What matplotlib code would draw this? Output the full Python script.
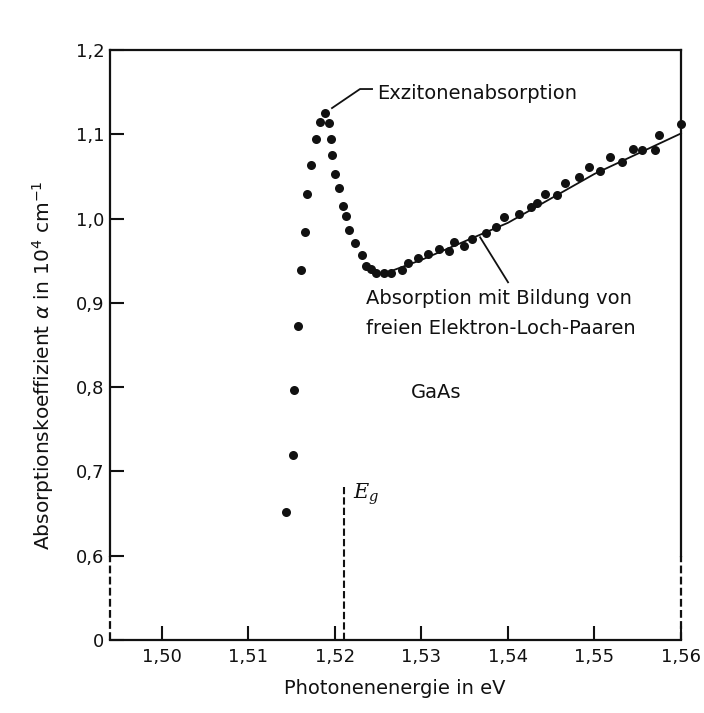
import matplotlib
matplotlib.use("Agg")
import matplotlib.pyplot as plt

# ---- data ----
peak_rise_x = [1.51437, 1.5151, 1.5153, 1.51578, 1.51606, 1.51659, 1.51678,
               1.51724, 1.51782, 1.51828, 1.51885]
peak_rise_y = [0.652, 0.720, 0.797, 0.872, 0.939, 0.984, 1.029,
               1.063, 1.095, 1.115, 1.1255]
peak_fall_x = [1.51931, 1.51951, 1.51962, 1.52000, 1.52043, 1.52089, 1.52126,
               1.52161, 1.52228, 1.52316, 1.52364, 1.52422, 1.52480, 1.5257]
peak_fall_y = [1.113, 1.095, 1.076, 1.053, 1.036, 1.015, 1.003,
               0.986, 0.971, 0.957, 0.944, 0.940, 0.936, 0.935]
band_x = [1.52652, 1.52778, 1.52843, 1.52957, 1.53072, 1.53199, 1.53322,
          1.53379, 1.53494, 1.53583, 1.53744, 1.53859, 1.53954, 1.54126,
          1.54261, 1.54337, 1.54433, 1.54567, 1.54655, 1.54816, 1.54931,
          1.55066, 1.55180, 1.55314, 1.55448, 1.55544, 1.55698, 1.55747,
          1.56003]
band_y = [0.936, 0.939, 0.947, 0.953, 0.958, 0.964, 0.961,
          0.972, 0.968, 0.976, 0.983, 0.990, 1.002, 1.005,
          1.014, 1.018, 1.029, 1.028, 1.042, 1.049, 1.061,
          1.057, 1.073, 1.067, 1.083, 1.081, 1.081, 1.099,
          1.112]
# smooth curve drawn under the band-absorption points
curve_x = [1.5255, 1.530, 1.540, 1.550, 1.560]
curve_y = [0.934, 0.951, 0.995, 1.053, 1.101]

E_g = 1.52105
E_g_top = 0.681

x_ticks = [1.50, 1.51, 1.52, 1.53, 1.54, 1.55, 1.56]
x_tick_labels = ["1,50", "1,51", "1,52", "1,53", "1,54", "1,55", "1,56"]
y_ticks = [0.5, 0.6, 0.7, 0.8, 0.9, 1.0, 1.1, 1.2]
y_tick_labels = ["0", "0,6", "0,7", "0,8", "0,9", "1,0", "1,1", "1,2"]

xmin, xmax = 1.494, 1.56
ymin, ybreak, ymax = 0.5, 0.6, 1.2

exc_leader_x = [1.51966, 1.52290, 1.52429]
exc_leader_y = [1.1311, 1.1537, 1.1537]
band_leader_x = [1.53678, 1.54001]
band_leader_y = [0.9778, 0.9244]

# ---- figure ----
plt.rcParams['font.family'] = ['DejaVu Sans']
fig = plt.figure(figsize=(7.04, 7.13), dpi=100)
ax = fig.add_axes([110/704, 1-640/713, 571/704, 590/713])
ax.set_xlim(xmin, xmax)
ax.set_ylim(ymin, ymax)

lw = 1.6
col = "#111111"
for s in ax.spines.values():
    s.set_linewidth(lw)
    s.set_color(col)
ax.spines['left'].set_bounds(ybreak, ymax)
ax.spines['right'].set_bounds(ybreak, ymax)
dash = (0, (3.5, 1.5))
ax.plot([xmin, xmin], [ymin, ybreak], color=col, lw=lw, ls=dash, clip_on=False)
ax.plot([xmax, xmax], [ymin, ybreak], color=col, lw=lw, ls=dash, clip_on=False)

ax.set_xticks(x_ticks)
ax.set_xticklabels(x_tick_labels)
ax.set_yticks(y_ticks)
ax.set_yticklabels(y_tick_labels)
ax.tick_params(axis='both', direction='in', length=10, width=1.5, colors=col,
               labelsize=13)
ax.tick_params(axis='x', pad=6)
ax.tick_params(axis='y', pad=4)

# data points
ms = 6.5
ax.plot(curve_x, curve_y, color=col, lw=1.3, clip_on=False)
ax.plot(peak_rise_x, peak_rise_y, 'o', color=col, ms=ms, mew=0, clip_on=False)
ax.plot(peak_fall_x, peak_fall_y, 'o', color=col, ms=ms, mew=0, clip_on=False)
ax.plot(band_x, band_y, 'o', color=col, ms=ms, mew=0, clip_on=False)

# E_g marker
ax.plot([E_g, E_g], [ymin, E_g_top], color=col, lw=1.5, ls=dash)
ax.text(E_g + 0.0010, E_g_top - 0.008, r'$E_g$', fontsize=15,
        math_fontfamily='dejavuserif', ha='left', va='center', color=col)

# annotations
ax.plot(exc_leader_x, exc_leader_y, color=col, lw=1.3)
ax.text(1.52486, 1.1489, "Exzitonenabsorption", fontsize=14, ha='left',
        va='center', color=col)
ax.plot(band_leader_x, band_leader_y, color=col, lw=1.3)
ax.text(1.52359, 0.9054, "Absorption mit Bildung von", fontsize=14,
        ha='left', va='center', color=col)
ax.text(1.52359, 0.8697, "freien Elektron-Loch-Paaren", fontsize=14,
        ha='left', va='center', color=col)
ax.text(1.53168, 0.7937, "GaAs", fontsize=14, ha='center', va='center',
        color=col)

fig.text(395/704, 1-688/713, "Photonenenergie in eV", fontsize=14,
         ha='center', va='center', color=col)
fig.text(43/704, 1-365/713, r"Absorptionskoeffizient $\alpha$ in 10$^4$ cm$^{-1}$",
         fontsize=14.5, rotation=90, ha='center', va='center', color=col)

fig.savefig("out.png", dpi=100, facecolor='white')
